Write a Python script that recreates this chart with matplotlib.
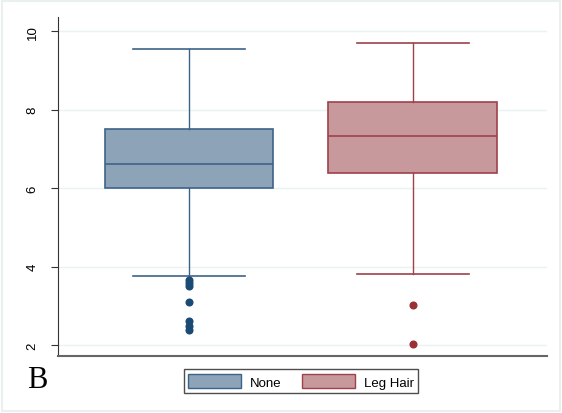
import matplotlib
matplotlib.use("Agg")
import matplotlib.pyplot as plt
from matplotlib.patches import Rectangle, Patch

groups = ["None", "Leg Hair"]
whislo = [3.76, 3.81]
q1 = [6.00, 6.38]
med = [6.61, 7.32]
q3 = [7.50, 8.19]
whishi = [9.54, 9.69]
fliers = [[3.66, 3.58, 3.50, 3.10, 2.60, 2.49, 2.38], [3.03, 2.03]]
yticks = [2, 4, 6, 8, 10]

fills = ["#8ca3b8", "#c8999c"]
edges = ["#3d6388", "#9e414a"]
dots = ["#1b4a74", "#9a3035"]

plt.rcParams['font.family'] = ['Liberation Sans', 'DejaVu Sans']
fig = plt.figure(figsize=(5.62, 4.14), dpi=100)
fig.patch.set_facecolor("white")
fig.add_artist(Rectangle((0.004, 0.004), 0.992, 0.992, transform=fig.transFigure,
                         fill=False, edgecolor="#eaf0f0", linewidth=1.5))
ax = fig.add_axes([0.1032, 0.1377, 0.8698, 0.8188])

for i in range(2):
    st = [dict(whislo=whislo[i], q1=q1[i], med=med[i], q3=q3[i], whishi=whishi[i],
               fliers=fliers[i], label=groups[i])]
    ax.bxp(st, positions=[i + 1], widths=0.754, patch_artist=True, capwidths=0.5,
           boxprops=dict(facecolor=fills[i], edgecolor=edges[i], linewidth=1.2),
           medianprops=dict(color=edges[i], linewidth=1.2),
           whiskerprops=dict(color=edges[i], linewidth=1.0),
           capprops=dict(color=edges[i], linewidth=1.2),
           flierprops=dict(marker='o', markerfacecolor=dots[i], markeredgecolor=dots[i],
                           markersize=4.8))

ax.set_xlim(0.415, 2.598)
ax.set_ylim(1.72, 10.36)
ax.set_yticks(yticks)
ax.set_yticklabels([str(t) for t in yticks], rotation=90, va='center', fontsize=9.5)
ax.set_xticks([])
ax.grid(axis='y', color="#eaf2f3", linewidth=1)
ax.set_axisbelow(True)
for s in ["top", "right"]:
    ax.spines[s].set_visible(False)
ax.spines["left"].set_color("#333333")
ax.spines["bottom"].set_color("#666666")
ax.spines["bottom"].set_linewidth(1.5)
ax.tick_params(axis='y', length=5, color="#333333", pad=9)

handles = [Patch(facecolor=fills[i], edgecolor=edges[i], label=groups[i]) for i in range(2)]
leg = fig.legend(handles=handles, loc='center', bbox_to_anchor=(0.5355, 0.0765), ncol=2,
                 frameon=True, fancybox=False, edgecolor="#222222", fontsize=9.5,
                 handlelength=4.0, handleheight=1.3, columnspacing=1.6, handletextpad=0.65,
                 borderpad=0.35, borderaxespad=0)
leg.get_frame().set_linewidth(1.0)

fig.text(0.048, 0.082, "B", fontsize=22, family="Liberation Serif", va='center', ha='left')

fig.savefig("out.png", dpi=100)
